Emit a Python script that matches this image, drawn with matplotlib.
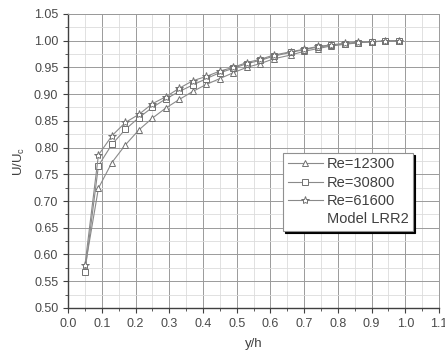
import matplotlib.pyplot as plt
from matplotlib.lines import Line2D
from matplotlib.ticker import MultipleLocator

# ---------- Data ----------
y_h = [0.05, 0.09, 0.13, 0.17, 0.21, 0.25, 0.29, 0.33, 0.37, 0.41, 0.45, 0.49,
       0.53, 0.57, 0.61, 0.66, 0.70, 0.74, 0.78, 0.82, 0.86, 0.90, 0.94, 0.98]

re_12300 = [0.575, 0.724, 0.772, 0.805, 0.833, 0.855, 0.874, 0.890, 0.905, 0.918, 0.929, 0.940,
            0.950, 0.957, 0.966, 0.973, 0.980, 0.985, 0.990, 0.993, 0.996, 0.998, 0.999, 1.000]
re_30800 = [0.567, 0.766, 0.806, 0.834, 0.856, 0.875, 0.891, 0.905, 0.917, 0.929, 0.940, 0.948,
            0.957, 0.963, 0.971, 0.978, 0.983, 0.988, 0.991, 0.994, 0.996, 0.998, 0.999, 1.000]
re_61600 = [0.580, 0.786, 0.822, 0.847, 0.862, 0.882, 0.895, 0.911, 0.925, 0.933, 0.943, 0.950,
            0.959, 0.965, 0.973, 0.979, 0.984, 0.989, 0.992, 0.995, 0.997, 0.998, 0.999, 1.000]

labels = ["Re=12300", "Re=30800", "Re=61600"]
markers = ["^", "s", "*"]

plt.rcParams["font.family"] = ["Liberation Sans", "DejaVu Sans"]

fig = plt.figure(figsize=(4.45, 3.56), dpi=100)
ax = fig.add_axes([0.153, 0.135, 0.8335, 0.826])

line_col = "#8a8a8a"
for ys, lab, mk in zip([re_12300, re_30800, re_61600], labels, markers):
    ax.plot(y_h, ys, color=line_col, lw=0.8, marker=mk, ms=6 if mk == "*" else 4.5,
            mfc="white", mec="#707070", mew=0.7, label=lab)

ax.set_xlim(0.0, 1.1)
ax.set_ylim(0.50, 1.05)
ax.xaxis.set_major_locator(MultipleLocator(0.1))
ax.xaxis.set_minor_locator(MultipleLocator(0.05))
ax.yaxis.set_major_locator(MultipleLocator(0.05))
ax.yaxis.set_minor_locator(MultipleLocator(0.025))
ax.xaxis.set_major_formatter(plt.FormatStrFormatter("%.1f"))
ax.yaxis.set_major_formatter(plt.FormatStrFormatter("%.2f"))

ax.grid(True, which="major", color="#9a9a9a", lw=0.7)
ax.grid(True, which="minor", color="#dcdcdc", lw=0.6)
ax.set_axisbelow(True)

for s in ["top", "right"]:
    ax.spines[s].set_color("#9a9a9a")
    ax.spines[s].set_linewidth(0.7)
for s in ["left", "bottom"]:
    ax.spines[s].set_color("#404040")
    ax.spines[s].set_linewidth(1.0)

ax.tick_params(which="both", direction="out", colors="#404040", labelcolor="#4a4a4a",
               labelsize=9, top=False, right=False)
ax.tick_params(which="major", length=3.5)
ax.tick_params(which="minor", length=2)

ax.set_xlabel("y/h", fontsize=9.5, color="#404040", labelpad=6)
ax.set_ylabel("U/U$_\\mathregular{c}$", fontsize=9.5, color="#404040", labelpad=5)

handles, labs = ax.get_legend_handles_labels()
handles.append(Line2D([], [], color="none"))
labs.append("Model LRR2")
leg = ax.legend(handles, labs, loc="upper left", bbox_to_anchor=(0.58, 0.527),
                fontsize=10.5, frameon=True, fancybox=False, edgecolor="#909090",
                shadow={"color": "black", "alpha": 1.0, "ox": 1.5, "oy": -1.5},
                handlelength=2.4, handletextpad=0.3, borderpad=0.3, labelspacing=0.3,
                borderaxespad=0, labelcolor="#404040")
leg.get_frame().set_linewidth(0.8)

fig.savefig("out.png", dpi=100)
